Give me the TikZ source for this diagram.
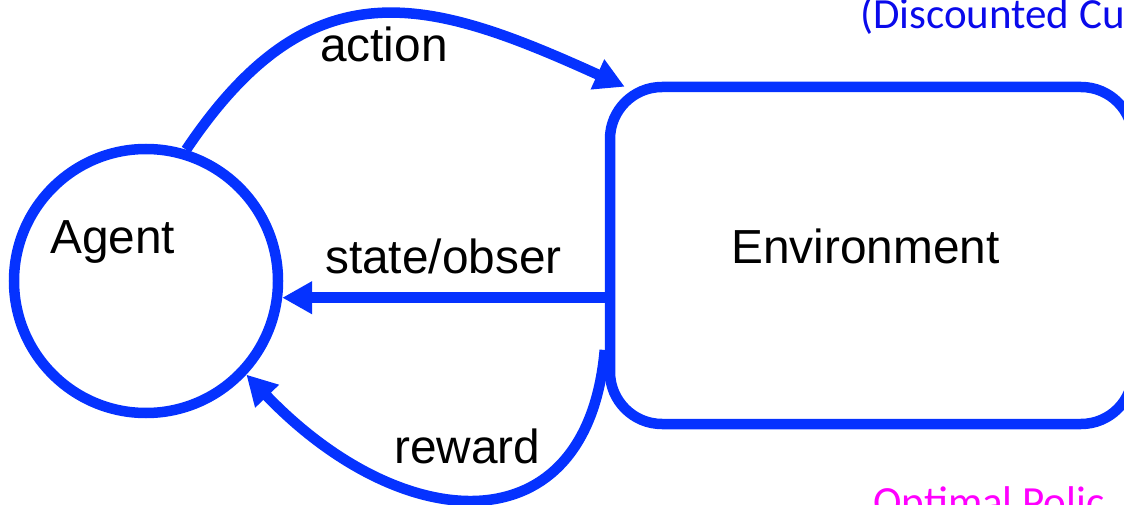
\documentclass[tikz,border=0pt]{standalone}
\usepackage{fontspec}
\setmainfont{Liberation Sans}
\newfontfamily\calib{Carlito}
\usetikzlibrary{arrows.meta}
\definecolor{lineblue}{RGB}{5,50,255}
\definecolor{textblue}{RGB}{10,10,235}
\definecolor{pinkmag}{RGB}{255,0,255}
\begin{document}
\begin{tikzpicture}[x=1pt,y=-1pt,
  shapeline/.style={draw=lineblue, line width=10.5pt},
  conn/.style={draw=lineblue, line width=10.5pt, -{Triangle[length=30pt,width=31pt]}},
  lbl/.style={anchor=base west, inner sep=0pt, font=\fontsize{47.8}{57}\selectfont},
  sidetext/.style={anchor=base west, inner sep=0pt, font=\calib\fontsize{43}{51}\selectfont}
  ]
\useasboundingbox (0,0) rectangle (1124,505);
\clip (0,0) rectangle (1124,505);
\node[shapeline, circle, minimum size=264pt, inner sep=0pt] (agent) at (146,281) {};
\node[shapeline, rectangle, rounded corners=52pt, minimum width=523pt, minimum height=337pt, inner sep=0pt] (env) at (871.5,255.5) {};
\node[lbl] (agentlbl) at (50,253) {Agent};
\node[lbl] (envlbl) at (731,263) {Environment};
% action
\draw[conn] (agent.73) .. controls (312,-38) and (429,-2) .. ([shift={(20,5)}]env.north west);
\node[lbl] (actlbl) at (320,62) {action};
% state/observation
\draw[conn] (env.west |- agent.-7) -- (agent.-7);
\node[lbl] (statelbl) at (325,273) {state/obser};
% reward
\draw[conn] ([shift={(0,94.5)}]env.west) .. controls (587,550) and (402,537) .. (agent.-43);
\node[lbl] (rewlbl) at (394,463) {reward};
% side texts
\node[sidetext, text=textblue] (disc) at (860,29) {(Discounted Cu};
\node[sidetext, text=pinkmag] (optp) at (873,516) {Optimal Polic};
\end{tikzpicture}
\end{document}
